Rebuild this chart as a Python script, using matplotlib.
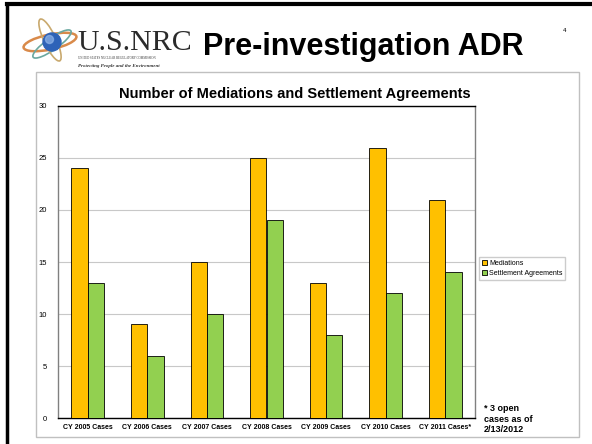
import numpy as np
import matplotlib
matplotlib.use("Agg")
import matplotlib.pyplot as plt
from matplotlib.patches import Rectangle, Ellipse, Circle

# values
categories = ["CY 2005 Cases", "CY 2006 Cases", "CY 2007 Cases", "CY 2008 Cases",
              "CY 2009 Cases", "CY 2010 Cases", "CY 2011 Cases*"]
mediations = [24, 9, 15, 25, 13, 26, 21]
settlements = [13, 6, 10, 19, 8, 12, 14]
yticks = [0, 5, 10, 15, 20, 25, 30]

plt.rcParams['font.family'] = ['Liberation Sans', 'DejaVu Sans']

fig = plt.figure(figsize=(5.92, 4.44), dpi=100)
W, H = 592.0, 444.0

def fx(px):
    return px / W

def fy(py):
    return 1 - py / H

# slide border (top and left black lines)
fig.add_artist(plt.Line2D([fx(6.5), 1], [fy(4), fy(4)], color='black', lw=3))
fig.add_artist(plt.Line2D([fx(6.5), fx(6.5)], [fy(4), 0], color='black', lw=2.5))

# chart frame
fig.add_artist(Rectangle((fx(36), fy(437)), fx(579) - fx(36), fy(72) - fy(437),
                         fill=False, edgecolor='#c0c0c0', lw=1))

# logo: atom graphic
lax = fig.add_axes([fx(18), fy(72), fx(70), fy(10) - fy(72)])
lax.set_xlim(18, 88)
lax.set_ylim(72, 10)
lax.set_aspect('equal')
lax.axis('off')
lax.add_patch(Ellipse((50, 42), 54, 15, angle=-12, fill=False, edgecolor='#d98a4a', lw=1.8))
lax.add_patch(Ellipse((52, 44), 46, 12, angle=-35, fill=False, edgecolor='#6aa8a0', lw=1.2))
lax.add_patch(Ellipse((50, 40), 12, 46, angle=-25, fill=False, edgecolor='#c9a96e', lw=1.2))
lax.add_patch(Circle((52, 42), 9, color='#2e63b8'))
lax.add_patch(Circle((49.5, 39.5), 4, color='#8fb4e8', alpha=0.7))

fig.text(fx(77), fy(50), "U.S.NRC", fontsize=21.5, family='Liberation Serif',
         color='#2b2b2b', ha='left', va='baseline')
fig.text(fx(78), fy(58), "UNITED STATES NUCLEAR REGULATORY COMMISSION", fontsize=2.2,
         family='Liberation Serif', color='#333333', ha='left', va='center')
fig.text(fx(78), fy(65.5), "Protecting People and the Environment", fontsize=3.6,
         family='Liberation Serif', style='italic', weight='bold', color='#333333',
         ha='left', va='center')

fig.text(fx(203), fy(55), "Pre-investigation ADR", fontsize=22, weight='bold',
         ha='left', va='baseline')
fig.text(fx(565), fy(30), "4", fontsize=4.5, ha='center', va='center')

# bar chart
ax = fig.add_axes([fx(58), fy(418), fx(475) - fx(58), fy(106) - fy(418)])
x = np.arange(len(categories))
w = 0.275
ax.bar(x - w / 2, mediations, w, color='#ffc000', edgecolor='black', lw=0.6,
       label='Mediations', zorder=3)
ax.bar(x + w / 2, settlements, w, color='#92d050', edgecolor='black', lw=0.6,
       label='Settlement Agreements', zorder=3)
ax.set_xlim(-0.5, len(categories) - 0.5)
ax.set_ylim(0, 30)
ax.set_yticks(yticks)
ax.set_yticklabels([str(v) for v in yticks], fontsize=5.5)
ax.set_xticks(x)
ax.set_xticklabels(categories, fontsize=5, weight='bold', fontstretch='condensed')
ax.tick_params(axis='both', length=0, pad=4)
ax.tick_params(axis='y', pad=8)
ax.yaxis.grid(True, color='#c8c8c8', lw=0.8)
ax.set_axisbelow(True)
ax.spines['top'].set_color('black')
ax.spines['bottom'].set_color('black')
ax.spines['left'].set_color('#808080')
ax.spines['right'].set_color('#808080')
for s in ax.spines.values():
    s.set_linewidth(1)

ax.set_title("Number of Mediations and Settlement Agreements", fontsize=10.5,
             weight='bold', pad=6, x=(fx(295) - fx(58)) / (fx(475) - fx(58)))

fig.legend(loc='center left', bbox_to_anchor=(fx(476), fy(268.5)), fontsize=5,
           frameon=True, fancybox=False, edgecolor='#c0c0c0', borderpad=0.4,
           handlelength=0.7, handleheight=0.7, handletextpad=0.3, labelspacing=0.4)

fig.text(fx(484), fy(419), "* 3 open\ncases as of\n2/13/2012", fontsize=6.5,
         weight='bold', ha='left', va='center', linespacing=1.25)

fig.savefig('out.png', dpi=100)
